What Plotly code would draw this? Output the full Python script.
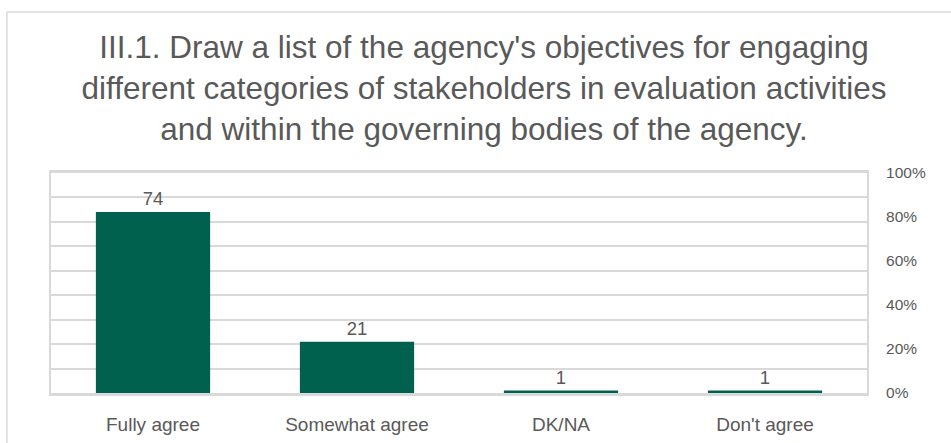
import plotly.graph_objects as go

# Survey responses for item III.1
categories = ["Fully agree", "Somewhat agree", "DK/NA", "Don't agree"]
counts = [74, 21, 1, 1]
pct_ticks = [0, 0.2, 0.4, 0.6, 0.8, 1.0]
pct_labels = ["0%", "20%", "40%", "60%", "80%", "100%"]

title_text = ("III.1. Draw a list of the agency's objectives for engaging<br>"
              "different categories of stakeholders in evaluation activities<br>"
              "and within the governing bodies of the agency.")

FONT = "Liberation Sans Narrow, Arial Narrow, sans-serif"
GREY_TXT = "#595959"
GRID = "#d9d9d9"
BAR = "#00614f"

fig = go.Figure()
fig.add_trace(go.Bar(
    x=categories, y=counts,
    marker=dict(color=BAR, line=dict(width=0)),
    text=[str(v) for v in counts], textposition="outside",
    textfont=dict(family=FONT, size=18.5, color=GREY_TXT),
    cliponaxis=False, showlegend=False, hoverinfo="skip",
))
# invisible trace so the percentage axis is drawn
fig.add_trace(go.Scatter(x=categories, y=[None] * 4, yaxis="y2",
                         showlegend=False, hoverinfo="skip"))

fig.update_layout(
    width=951, height=443,
    margin=dict(l=51, r=84, t=173, b=50, autoexpand=False),
    paper_bgcolor="white", plot_bgcolor="white",
    bargap=0.44,
    xaxis=dict(
        automargin=False,
        showgrid=False, showline=True, linecolor=GRID, linewidth=2.5, mirror=True,
        layer="above traces",
        ticks="outside", ticklen=12, tickcolor="rgba(0,0,0,0)",
        tickfont=dict(family=FONT, size=19, color=GREY_TXT),
        zeroline=False,
    ),
    yaxis=dict(
        automargin=False,
        range=[0, 90], dtick=10, showticklabels=False,
        showgrid=True, gridcolor=GRID, gridwidth=2,
        showline=True, linecolor=GRID, linewidth=2, mirror=True,
        zeroline=False, ticks="",
    ),
    yaxis2=dict(
        automargin=False,
        overlaying="y", side="right", range=[0, 1],
        tickvals=pct_ticks, ticktext=pct_labels,
        showgrid=False, zeroline=False, showline=False,
        ticks="outside", ticklen=15, tickcolor="rgba(0,0,0,0)",
        tickfont=dict(family=FONT, size=15.5, color=GREY_TXT),
    ),
    title=dict(
        text=title_text, x=484 / 951, xanchor="center",
        yref="container", y=1 - 58 / 443, yanchor="middle",
        font=dict(family=FONT, size=31.5, color=GREY_TXT),
    ),
    shapes=[
        dict(type="line", xref="paper", yref="paper",
             x0=-0.054, x1=1.2, y0=1.732, y1=1.732,
             line=dict(color=GRID, width=1.5)),
        dict(type="line", xref="paper", yref="paper",
             x0=-0.054, x1=-0.054, y0=1.732, y1=-0.5,
             line=dict(color=GRID, width=1.5)),
    ],
)

fig.write_html("out.html")
